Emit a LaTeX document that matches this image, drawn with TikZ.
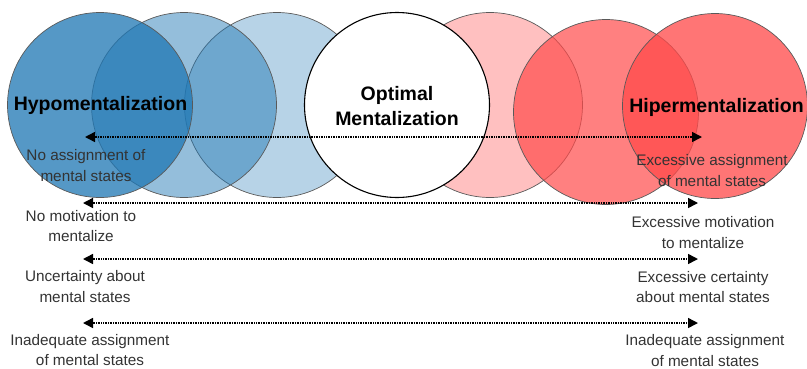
\documentclass[tikz,border=0pt]{standalone}
\usepackage{fontspec}
\setmainfont{Liberation Sans}
\usetikzlibrary{arrows.meta}
\definecolor{hypo}{RGB}{31,119,180}
\definecolor{hyper}{RGB}{255,74,74}

\begin{document}
\begin{tikzpicture}[x=1pt,y=-1pt,
  circ/.style={circle,draw=black!65,line width=0.7pt,minimum size=185pt,inner sep=0pt},
  big/.style={font=\fontsize{19.5}{25}\selectfont\bfseries,align=center},
  lb/.style={font=\fontsize{15.3}{20.5}\selectfont,text=black!80,align=center},
  arr/.style={{Triangle[length=10pt,width=10pt]}-{Triangle[length=10pt,width=10pt]},
    line width=1.5pt,dash pattern=on 1pt off 0.7pt}]
  \useasboundingbox (0,0) rectangle (807,368);
  % blue circles
  \node[circ,fill=hypo,fill opacity=0.32] (b3) at (277,105) {};
  \node[circ,fill=hypo,fill opacity=0.48] (b2) at (184,105) {};
  \node[circ,fill=hypo,fill opacity=0.76] (b1) at (100,105) {};
  % red circles
  \node[circ,fill=hyper,fill opacity=0.35] (r1) at (490,105) {};
  \node[circ,fill=hyper,fill opacity=0.70] (r2) at (606,112) {};
  \node[circ,fill=hyper,fill opacity=0.76] (r3) at (715,106) {};
  % white one in the middle
  \node[circ,fill=white,draw=black,line width=1.1pt] (o) at (397,105) {};
  \node[big] (hypo)  at (100.5,105) {Hypomentalization};
  \node[big] (opt)   at (397,106)   {Optimal\\Mentalization};
  \node[big] (hyper) at (716.5,107) {Hipermentalization};
  % arrow ends
  \coordinate (l1) at (85,137);  \coordinate (e1) at (702,137);
  \coordinate (l2) at (83,203);  \coordinate (e2) at (698,203);
  \coordinate (l3) at (83,259);  \coordinate (e3) at (698,259);
  \coordinate (l4) at (83,323);  \coordinate (e4) at (698,323);
  \draw[arr] (l1) -- (e1);
  \draw[arr] (l2) -- (e2);
  \draw[arr] (l3) -- (e3);
  \draw[arr] (l4) -- (e4);
  % labels
  \node[lb] (a1) at (86,165.5) {No assignment of\\mental states};
  \node[lb] (b1t) at (712,170.5) {Excessive assignment\\of mental states};
  \node[lb] (a2) at (81,226)   {No motivation to\\mentalize};
  \node[lb] (b2t) at (703,232.5) {Excessive motivation\\to mentalize};
  \node[lb] (a3) at (85,286.5) {Uncertainty about\\mental states};
  \node[lb] (b3t) at (703,287)   {Excessive certainty\\about mental states};
  \node[lb] (a4) at (90,350) {Inadequate assignment\\of mental states};
  \node[lb] (b4t) at (705,350.5)   {Inadequate assignment\\of mental states};
\end{tikzpicture}
\end{document}
